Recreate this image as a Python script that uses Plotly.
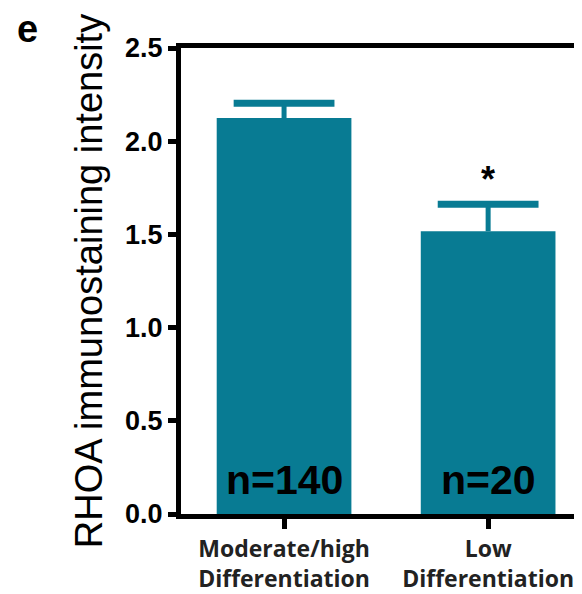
import plotly.graph_objects as go

categories = ["Moderate/high<br>Differentiation", "Low<br>Differentiation"]
means = [2.124, 1.517]
sem = [0.08, 0.145]
n_labels = ["n=140", "n=20"]
significance = ["", "*"]
y_ticks = [0.0, 0.5, 1.0, 1.5, 2.0, 2.5]

teal = "#087b93"

# page body has an 8px margin; figure sized so page coords match the reference
W, H = 574, 586
L, T, B, R = 173, 40, 77, 0
pw = W - L - R

fig = go.Figure()
fig.add_trace(go.Bar(
    x=categories, y=means, width=0.66,
    marker=dict(color=teal, line=dict(width=0)),
    error_y=dict(type="data", array=sem, arrayminus=[0] * len(sem), symmetric=False,
                 color=teal, thickness=5, width=0),
    showlegend=False,
))
# error-bar caps
fig.add_trace(go.Scatter(
    x=categories, y=[m + e for m, e in zip(means, sem)], mode="markers",
    marker=dict(symbol="line-ew", size=72, color=teal, line=dict(color=teal, width=7)),
    showlegend=False, hoverinfo="skip",
))

for c, lab in zip(categories, n_labels):
    fig.add_annotation(x=c, y=0, yanchor="bottom", yshift=9, text=lab, showarrow=False,
                       font=dict(family="Liberation Sans, Arial", size=41,
                                 color="black", weight="bold"))
for c, m, e, s in zip(categories, means, sem, significance):
    if s:
        fig.add_annotation(x=c, y=m + e, yanchor="bottom", yshift=2, text=s, showarrow=False,
                           font=dict(family="Liberation Sans, Arial", size=36, color="black", weight="bold"))

fig.add_annotation(xref="paper", yref="paper", x=(19 - L) / pw, y=1 + 19 / 469,
                   xanchor="center", yanchor="middle", text="e", showarrow=False,
                   font=dict(family="Liberation Sans, Arial", size=38, color="black", weight="bold"))

fig.update_layout(
    width=W, height=H,
    margin=dict(l=L, r=R, t=T, b=B),
    paper_bgcolor="white", plot_bgcolor="white",
)
fig.update_xaxes(
    range=[-0.505, 1.46], showline=True, linecolor="black", linewidth=5, mirror=True,
    ticks="outside", ticklen=10, tickwidth=5, tickcolor="black",
    tickfont=dict(family="Open Sans, Liberation Sans", size=23, color="#222", weight="bold"),
    showgrid=False, zeroline=False,
)
fig.update_yaxes(
    range=[0, 2.5], tickvals=y_ticks, ticktext=[f"{v:.1f}" for v in y_ticks],
    showline=True, linecolor="black", linewidth=5,
    ticks="outside", ticklen=8, tickwidth=5, tickcolor="black",
    tickfont=dict(family="Liberation Sans, Arial", size=27, color="black", weight="bold"),
    showgrid=False, zeroline=False,
    title=dict(text="RHOA immunostaining intensity", standoff=12,
               font=dict(family="Liberation Sans, Arial", size=38, color="black")),
)

fig.write_html("out.html")
